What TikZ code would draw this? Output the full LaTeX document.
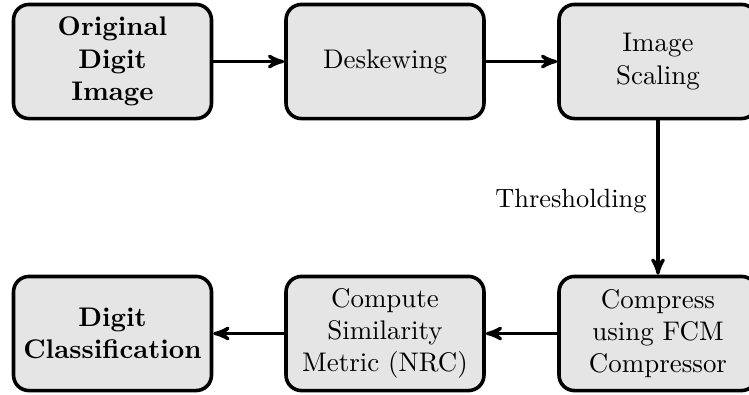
\documentclass[tikz,border=0pt]{standalone}
\usepackage{tikz}
\usetikzlibrary{arrows,positioning}
\begin{document}
\begin{tikzpicture}[x=0.39pt,y=-0.39pt,>=stealth',
  stage/.style={draw, line width=1.4pt, rounded corners=6pt, fill=gray!20,
    minimum width=77.2pt, minimum height=44.5pt, align=center, inner sep=0pt,
    font=\fontsize{10.5}{12.6}\selectfont},
  flow/.style={->, line width=1.2pt}]
\clip (0,0) rectangle (749,394);
%top row
\node[stage] (orig) at (112.5,61.5) {\textbf{Original}\\\textbf{Digit}\\\textbf{Image}};
\node[stage] (deskew) at (385,61.5) {Deskewing};
\node[stage] (scaling) at (658,61.5) {Image\\Scaling};
%bottom row
\node[stage] (classify) at (112.5,333.5) {\textbf{Digit}\\\textbf{Classification}};
\node[stage] (nrc) at (385,333.5) {Compute\\Similarity\\Metric (NRC)};
\node[stage] (compress) at (658,333.5) {Compress\\using FCM\\Compressor};
%arrows
\draw[flow] (orig) -- (deskew);
\draw[flow] (deskew) -- (scaling);
\draw[flow] (scaling) -- node[left=0.5pt, yshift=-1.5pt, font=\fontsize{10.3}{12}\selectfont] {Thresholding} (compress);
\draw[flow] (compress) -- (nrc);
\draw[flow] (nrc) -- (classify);
\end{tikzpicture}
\end{document}
